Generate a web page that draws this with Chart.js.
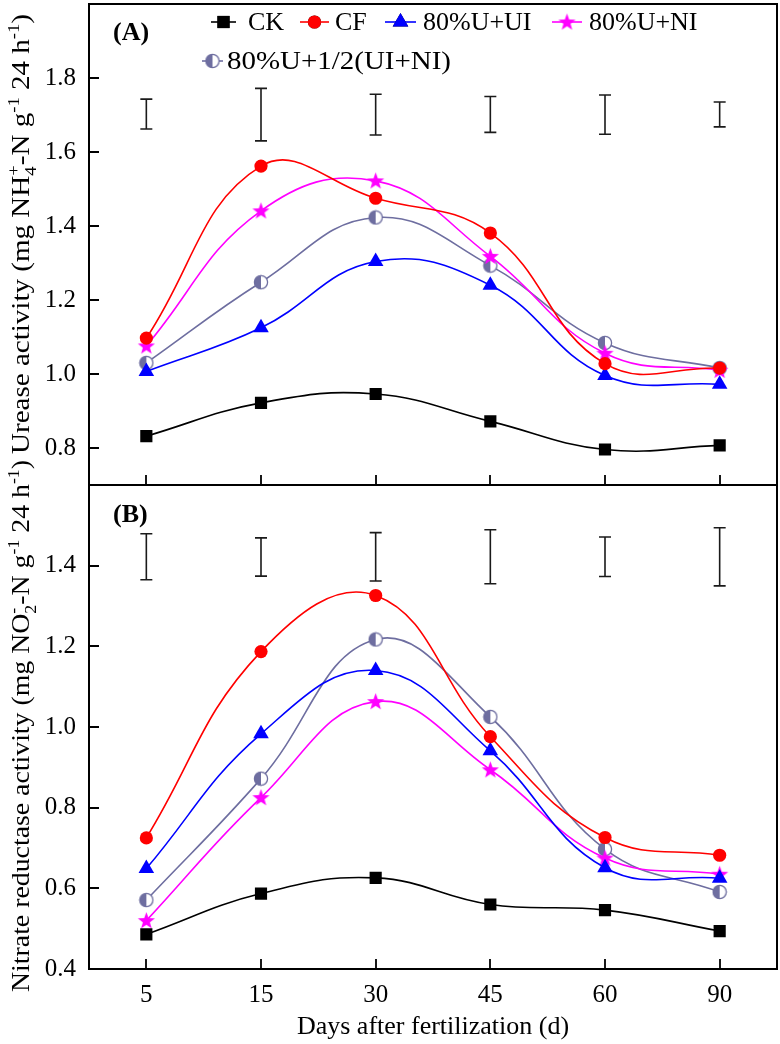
<!DOCTYPE html>
<html>
<head>
<meta charset="utf-8">
<script src="https://cdn.jsdelivr.net/npm/chart.js@4/dist/chart.umd.min.js"></script>
<style>
  html, body { margin: 0; padding: 0; background: #ffffff; }
  #wrap { position: relative; width: 780px; height: 1044px; overflow: hidden; }
  canvas { position: absolute; left: 0; }
  #cA { top: 0; }
  #cB { top: 440px; }
</style>
</head>
<body>
<div id="wrap">
  <canvas id="cA" width="780" height="487"></canvas>
  <canvas id="cB" width="780" height="604"></canvas>
</div>
<script>
// ---------- DATA ----------
const days = ['5', '15', '30', '45', '60', '90'];
const seriesNames = ['CK', 'CF', '80%U+UI', '80%U+NI', '80%U+1/2(UI+NI)'];

// (A) Urease activity
const ureCK   = [0.832, 0.922, 0.946, 0.872, 0.796, 0.807];
const ureCF   = [1.097, 1.562, 1.475, 1.381, 1.028, 1.016];
const ureUI   = [1.007, 1.125, 1.304, 1.240, 0.996, 0.972];
const ureNI   = [1.076, 1.441, 1.522, 1.318, 1.056, 1.010];
const ureHalf = [1.030, 1.248, 1.423, 1.293, 1.084, 1.016];
const ureErrLow  = [1.662, 1.630, 1.646, 1.653, 1.648, 1.668];
const ureErrHigh = [1.743, 1.772, 1.756, 1.750, 1.754, 1.735];
const ureTicks = [0.8, 1.0, 1.2, 1.4, 1.6, 1.8];

// (B) Nitrate reductase activity
const nrCK   = [0.486, 0.587, 0.626, 0.560, 0.546, 0.494];
const nrCF   = [0.725, 1.187, 1.326, 0.976, 0.726, 0.682];
const nrUI   = [0.649, 0.983, 1.140, 0.941, 0.651, 0.625];
const nrNI   = [0.520, 0.825, 1.063, 0.894, 0.675, 0.635];
const nrHalf = [0.571, 0.872, 1.217, 1.025, 0.697, 0.591];
const nrErrLow  = [1.365, 1.374, 1.362, 1.355, 1.373, 1.350];
const nrErrHigh = [1.479, 1.469, 1.482, 1.489, 1.471, 1.494];
const nrTicks = [0.4, 0.6, 0.8, 1.0, 1.2, 1.4];

// ---------- STYLE ----------
const FONT = '"Liberation Serif", "Times New Roman", serif';
const colCK = '#000000', colCF = '#ff0000', colUI = '#0000ff', colNI = '#ff00ff', colHalf = '#6e6ea0';

function makeStar(color) {
  const c = document.createElement('canvas');
  c.width = 19; c.height = 19;
  const g = c.getContext('2d');
  const cx = 9.5, cy = 10, R = 9, r = 3.7;
  g.beginPath();
  for (let i = 0; i < 10; i++) {
    const a = -Math.PI / 2 + i * Math.PI / 5;
    const rad = i % 2 === 0 ? R : r;
    const x = cx + rad * Math.cos(a), y = cy + rad * Math.sin(a);
    if (i === 0) g.moveTo(x, y); else g.lineTo(x, y);
  }
  g.closePath();
  g.fillStyle = color; g.fill();
  return c;
}
function makeHalf(color) {
  const c = document.createElement('canvas');
  c.width = 16; c.height = 16;
  const g = c.getContext('2d');
  const cx = 8, cy = 8, R = 6.6;
  g.beginPath(); g.arc(cx, cy, R, 0, Math.PI * 2); g.fillStyle = '#ffffff'; g.fill();
  g.beginPath(); g.moveTo(cx, cy - R); g.arc(cx, cy, R, -Math.PI / 2, Math.PI / 2, true); g.closePath();
  g.fillStyle = color; g.fill();
  g.beginPath(); g.arc(cx, cy, R, 0, Math.PI * 2); g.lineWidth = 1.3; g.strokeStyle = color; g.stroke();
  return c;
}
const starImg = makeStar(colNI);
const halfImg = makeHalf(colHalf);

function mkSets(ck, cf, ui, ni, half) {
  const base = { borderWidth: 1.6, tension: 0.42, cubicInterpolationMode: 'default', fill: false };
  return [
    Object.assign({}, base, { label: seriesNames[0], data: ck, borderColor: colCK, backgroundColor: colCK, pointStyle: 'rect', pointRadius: 8.6, pointBorderWidth: 0 }),
    Object.assign({}, base, { label: seriesNames[1], data: cf, borderColor: colCF, backgroundColor: colCF, pointStyle: 'circle', pointRadius: 6.6, pointBorderWidth: 0 }),
    Object.assign({}, base, { label: seriesNames[2], data: ui, borderColor: colUI, backgroundColor: colUI, pointStyle: 'triangle', pointRadius: 9, pointBorderWidth: 0 }),
    Object.assign({}, base, { label: seriesNames[3], data: ni, borderColor: colNI, backgroundColor: colNI, pointStyle: starImg, pointRadius: 8 }),
    Object.assign({}, base, { label: seriesNames[4], data: half, borderColor: colHalf, backgroundColor: colHalf, pointStyle: halfImg, pointRadius: 7 })
  ];
}

// draw text with sub/superscripts, rotated -90deg, centred at (cx, cy), stretched to a target length
function drawRich(ctx, segs, cx, cy, size, targetLen) {
  ctx.save();
  ctx.translate(cx, cy);
  ctx.rotate(-Math.PI / 2);
  ctx.fillStyle = '#000';
  ctx.textBaseline = 'alphabetic';
  ctx.textAlign = 'left';
  const small = Math.round(size * 0.62);
  let total = 0;
  const widths = segs.map(s => {
    ctx.font = (s.k === 'n' ? size : small) + 'px ' + FONT;
    return ctx.measureText(s.t).width;
  });
  for (let i = 0; i < segs.length; i++) {
    if (segs[i].stack) { total += Math.max(widths[i], widths[i + 1]); i++; }
    else total += widths[i];
  }
  const sx = targetLen ? targetLen / total : 1;
  ctx.scale(sx, 1);
  let x = -total / 2;
  const y = size * 0.33;
  for (let i = 0; i < segs.length; i++) {
    const s = segs[i];
    const drawSeg = (seg, xx) => {
      ctx.font = (seg.k === 'n' ? size : small) + 'px ' + FONT;
      const dy = seg.k === 'sub' ? size * 0.28 : (seg.k === 'sup' ? -size * 0.42 : 0);
      ctx.fillText(seg.t, xx, y + dy);
    };
    if (s.stack) {
      drawSeg(s, x); drawSeg(segs[i + 1], x);
      x += Math.max(widths[i], widths[i + 1]); i++;
    } else { drawSeg(s, x); x += widths[i]; }
  }
  ctx.restore();
}

function fitText(ctx, txt, x, y, targetW) {
  const w = ctx.measureText(txt).width;
  ctx.save();
  ctx.translate(x, y);
  if (targetW) ctx.scale(targetW / w, 1);
  ctx.fillText(txt, 0, 0);
  ctx.restore();
}

const titleA = [
  { t: 'Urease activity (mg NH', k: 'n' }, { t: '4', k: 'sub', stack: true }, { t: '+', k: 'sup' },
  { t: '-N g', k: 'n' }, { t: '-1', k: 'sup' }, { t: ' 24 h', k: 'n' }, { t: '-1', k: 'sup' }, { t: ')', k: 'n' }
];
const titleB = [
  { t: 'Nitrate reductase activity (mg NO', k: 'n' }, { t: '2', k: 'sub', stack: true }, { t: '-', k: 'sup' },
  { t: '-N g', k: 'n' }, { t: '-1', k: 'sup' }, { t: ' 24 h', k: 'n' }, { t: '-1', k: 'sup' }, { t: ')', k: 'n' }
];

function panelPlugin(opts) {
  return {
    id: 'panel' + opts.label,
    afterDatasetsDraw(chart) {
      const ctx = chart.ctx, ca = chart.chartArea;
      const xs = chart.scales.x, ys = chart.scales.y;
      ctx.save();
      // error bars
      ctx.strokeStyle = '#1a1a1a'; ctx.lineWidth = 1.6;
      for (let i = 0; i < days.length; i++) {
        const px = xs.getPixelForValue(i);
        const y1 = ys.getPixelForValue(opts.errLow[i]);
        const y2 = ys.getPixelForValue(opts.errHigh[i]);
        ctx.beginPath();
        ctx.moveTo(px, y1); ctx.lineTo(px, y2);
        ctx.moveTo(px - 6, y1); ctx.lineTo(px + 6, y1);
        ctx.moveTo(px - 6, y2); ctx.lineTo(px + 6, y2);
        ctx.stroke();
      }
      // frame
      ctx.strokeStyle = '#000'; ctx.lineWidth = 2;
      ctx.strokeRect(ca.left, ca.top, ca.right - ca.left, ca.bottom - ca.top);
      // inward ticks
      ctx.lineWidth = 1.8;
      ctx.beginPath();
      opts.ticks.forEach(v => {
        const py = Math.round(ys.getPixelForValue(v));
        ctx.moveTo(ca.left, py); ctx.lineTo(ca.left + 10, py);
      });
      for (let i = 0; i < days.length; i++) {
        const px = Math.round(xs.getPixelForValue(i));
        ctx.moveTo(px, ca.bottom); ctx.lineTo(px, ca.bottom - 10);
      }
      ctx.stroke();
      // panel label
      ctx.fillStyle = '#000';
      ctx.font = 'bold 26px ' + FONT;
      ctx.textBaseline = 'middle'; ctx.textAlign = 'left';
      ctx.fillText(opts.label, 113, ca.top + opts.labelDy);
      // y title
      drawRich(ctx, opts.title, 21, (ca.top + ca.bottom) / 2 + opts.titleDy, 25, opts.titleLen);
      // x title
      if (opts.xTitle) {
        ctx.font = '26px ' + FONT;
        ctx.textAlign = 'center'; ctx.textBaseline = 'middle';
        ctx.fillText(opts.xTitle, (ca.left + ca.right) / 2, ca.bottom + 58);
      }
      // legend
      if (opts.legend) {
        ctx.font = '26px ' + FONT;
        ctx.textAlign = 'left'; ctx.textBaseline = 'middle';
        opts.legend.forEach(e => {
          const ds = chart.data.datasets[e.idx];
          ctx.strokeStyle = ds.borderColor; ctx.lineWidth = 1.6;
          ctx.beginPath(); ctx.moveTo(e.x0, e.y); ctx.lineTo(e.x1, e.y); ctx.stroke();
          Chart.helpers.drawPoint(ctx, {
            pointStyle: ds.pointStyle, radius: ds.pointRadius, borderWidth: 0, rotation: 0
          }, (e.x0 + e.x1) / 2, e.y);
          ctx.fillStyle = ds.backgroundColor;
          ctx.fill();
          ctx.fillStyle = '#000';
          fitText(ctx, ds.label, e.tx, e.y + 1, e.tw);
        });
      }
      ctx.restore();
    }
  };
}

function yScale(min, max, ticks) {
  return {
    type: 'linear', min: min, max: max,
    afterBuildTicks: s => { s.ticks = ticks.map(v => ({ value: v })); },
    afterFit: s => { s.width = 89; s.paddingTop = 0; s.paddingBottom = 0; },
    grid: { display: false, drawTicks: false },
    border: { display: false },
    ticks: {
      color: '#000', padding: 13,
      font: { family: FONT, size: 25 },
      callback: v => Number(v).toFixed(1)
    }
  };
}

Chart.defaults.font.family = FONT;

new Chart(document.getElementById('cA'), {
  type: 'line',
  data: { labels: days, datasets: mkSets(ureCK, ureCF, ureUI, ureNI, ureHalf) },
  options: {
    responsive: false, animation: false, devicePixelRatio: 1,
    layout: { autoPadding: false, padding: { left: 0, right: 3, top: 4, bottom: 2 } },
    plugins: { legend: { display: false }, tooltip: { enabled: false } },
    scales: {
      x: {
        type: 'category', offset: true, display: true,
        afterFit: s => { s.height = 0; s.paddingLeft = 0; s.paddingRight = 0; },
        grid: { display: false, drawTicks: false },
        border: { display: false },
        ticks: { display: false }
      },
      y: yScale(0.7, 2.0, ureTicks)
    }
  },
  plugins: [panelPlugin({
    label: '(A)', labelDy: 29, title: titleA, titleDy: -10.5, titleLen: 440,
    errLow: ureErrLow, errHigh: ureErrHigh, ticks: ureTicks,
    legend: [
      { idx: 0, x0: 211, x1: 236, y: 22, tx: 248 },
      { idx: 1, x0: 300, x1: 329, y: 22, tx: 335 },
      { idx: 2, x0: 385, x1: 416, y: 22, tx: 423 },
      { idx: 3, x0: 552, x1: 582, y: 22, tx: 589 },
      { idx: 4, x0: 202, x1: 223, y: 61, tx: 227, tw: 224 }
    ]
  })]
});

new Chart(document.getElementById('cB'), {
  type: 'line',
  data: { labels: days, datasets: mkSets(nrCK, nrCF, nrUI, nrNI, nrHalf) },
  options: {
    responsive: false, animation: false, devicePixelRatio: 1,
    layout: { autoPadding: false, padding: { left: 0, right: 3, top: 45, bottom: 0 } },
    plugins: { legend: { display: false }, tooltip: { enabled: false } },
    scales: {
      x: {
        type: 'category', offset: true,
        afterFit: s => { s.height = 75; s.paddingLeft = 0; s.paddingRight = 0; },
        grid: { display: false, drawTicks: false },
        border: { display: false },
        ticks: { color: '#000', padding: 11, font: { family: FONT, size: 25 }, maxRotation: 0 }
      },
      y: yScale(0.4, 1.6, nrTicks)
    }
  },
  plugins: [panelPlugin({
    label: '(B)', labelDy: 30, title: titleB, titleDy: -1, titleLen: 532,
    errLow: nrErrLow, errHigh: nrErrHigh, ticks: nrTicks,
    xTitle: 'Days after fertilization (d)'
  })]
});
</script>
</body>
</html>
